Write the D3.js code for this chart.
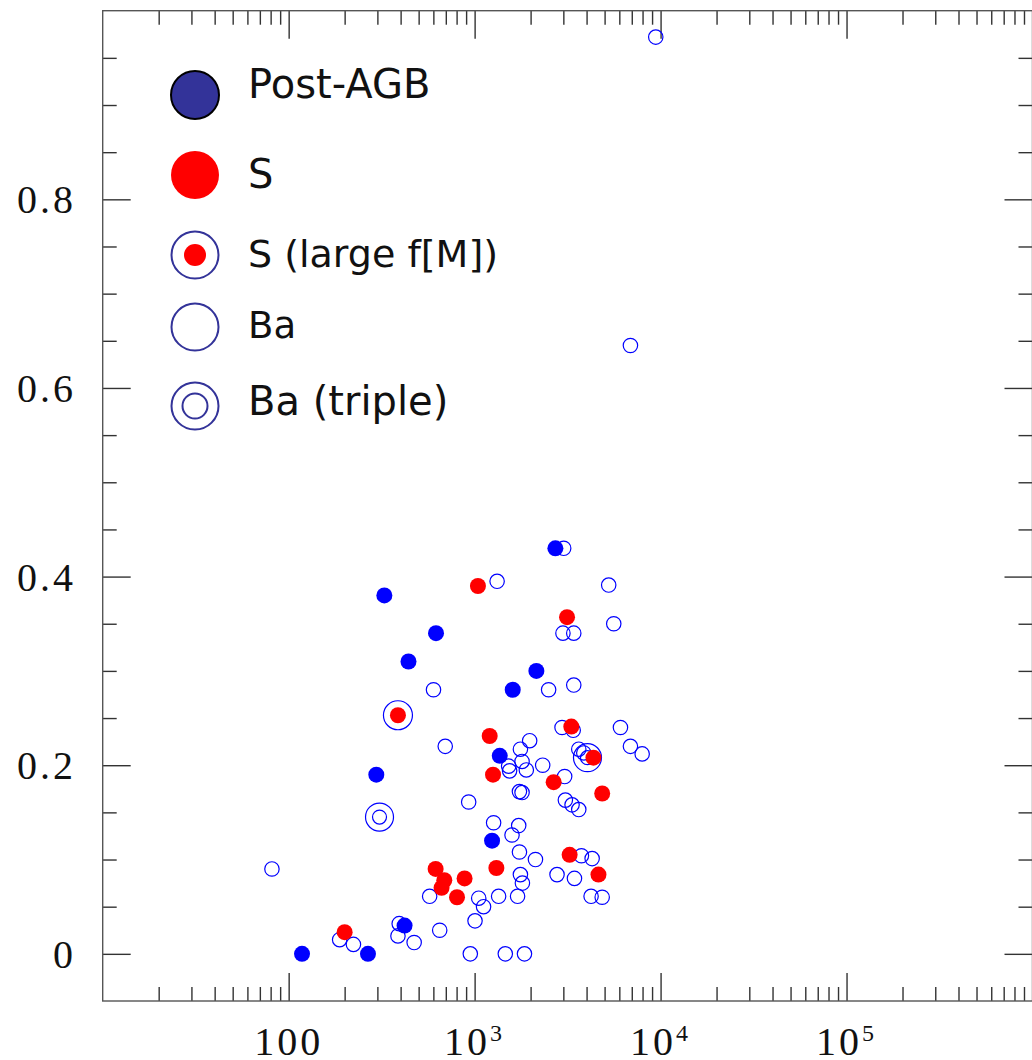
<!DOCTYPE html>
<html>
<head>
<meta charset="utf-8">
<script src="https://cdn.jsdelivr.net/npm/d3@7/dist/d3.min.js"></script>
<style>
  body { margin: 0; background: #fff; }
  svg { display: block; }
</style>
</head>
<body>
<svg id="chart" width="1032" height="1060"></svg>
<script>
// [orbital period, eccentricity]
const postAgb = [
  [2718, 0.430], [327, 0.380], [620, 0.340], [441, 0.310], [2148, 0.300],
  [1603, 0.280], [1365, 0.210], [296, 0.190], [1241, 0.120], [420, 0.030],
  [118, 0.000], [267, 0.000]
];
const sStars = [
  [1042, 0.390], [3140, 0.357], [1205, 0.231], [3311, 0.241], [1256, 0.190],
  [4355, 0.208], [2661, 0.182], [4853, 0.170], [3243, 0.105], [617, 0.090],
  [1309, 0.091], [687, 0.078], [664, 0.070], [883, 0.080], [4634, 0.084],
  [804, 0.060], [200, 0.023]
];
const sLargeFM = [[387, 0.253]];
const baTriple = [[308, 0.145], [4045, 0.208]];
const baStars = [
  [9420, 0.972], [6885, 0.645], [3013, 0.430], [1321, 0.395], [5260, 0.391],
  [5600, 0.350], [2985, 0.340], [3413, 0.340], [2500, 0.280], [3413, 0.285],
  [601, 0.280], [695, 0.220], [2952, 0.240], [3390, 0.237], [6085, 0.240],
  [6885, 0.220], [7961, 0.212], [1977, 0.226], [1763, 0.217], [1524, 0.199],
  [1542, 0.194], [1799, 0.204], [1897, 0.195], [2323, 0.200], [3631, 0.217],
  [3864, 0.213], [3049, 0.188], [1799, 0.171], [1742, 0.172], [3076, 0.163],
  [3342, 0.158], [3631, 0.153], [929, 0.161], [1265, 0.139], [1726, 0.136],
  [1589, 0.126], [81.3, 0.090], [1742, 0.108], [2124, 0.100], [3753, 0.104],
  [4285, 0.101], [1763, 0.084], [1807, 0.075], [2774, 0.084], [3443, 0.080],
  [573, 0.061], [1052, 0.059], [1117, 0.050], [1346, 0.061], [1702, 0.061],
  [4229, 0.061], [4853, 0.060], [1005, 0.035], [649, 0.025], [393, 0.032],
  [387, 0.019], [473, 0.012], [188, 0.015], [223, 0.010], [948, 0.000],
  [1462, 0.000], [1854, 0.000]
];

const xMajor = [100, 1e3, 1e4, 1e5];
const xLabels = [["100", ""], ["10", "3"], ["10", "4"], ["10", "5"]];
const yMajor = [0, 0.2, 0.4, 0.6, 0.8];
const yLabels = ["0", "0.2", "0.4", "0.6", "0.8"];

const legendLabels = ["Post-AGB", "S", "S (large f[M])", "Ba", "Ba (triple)"];

const svg = d3.select("#chart");
const plotLeft = 102.7, plotRight = 1032.5, plotTop = 10.7, plotBottom = 1001;

const x = d3.scaleLog().domain([10, 1e6]).range([plotLeft, plotRight]);
const y = d3.scaleLinear().domain([-0.05, 1]).range([plotBottom, plotTop]);

// minor tick values
const xMinor = [];
for (let e = 1; e < 6; e++) {
  for (let m = 2; m <= 9; m++) xMinor.push(m * Math.pow(10, e));
}
const yMinor = d3.range(0.05, 1.0, 0.05).filter(v => Math.abs(v * 5 - Math.round(v * 5)) > 1e-6);

const tickColor = "#333";

function axisGroup(axis, tx, ty) {
  const g = svg.append("g").attr("transform", `translate(${tx},${ty})`).call(axis);
  g.select(".domain").remove();
  g.selectAll("line").attr("stroke", tickColor).attr("stroke-width", 1.4);
  return g;
}

// ticks on all four sides, pointing inward
axisGroup(d3.axisBottom(x).tickValues(xMinor).tickSize(-14).tickFormat(""), 0, plotBottom);
axisGroup(d3.axisBottom(x).tickValues(xMajor).tickSize(-28).tickFormat(""), 0, plotBottom);
axisGroup(d3.axisTop(x).tickValues(xMinor).tickSize(-14).tickFormat(""), 0, plotTop);
axisGroup(d3.axisTop(x).tickValues(xMajor).tickSize(-28).tickFormat(""), 0, plotTop);
axisGroup(d3.axisLeft(y).tickValues(yMinor).tickSize(-14).tickFormat(""), plotLeft, 0);
axisGroup(d3.axisLeft(y).tickValues(yMajor).tickSize(-28).tickFormat(""), plotLeft, 0);
axisGroup(d3.axisRight(y).tickValues(yMinor).tickSize(-14).tickFormat(""), plotRight, 0);
axisGroup(d3.axisRight(y).tickValues(yMajor).tickSize(-28).tickFormat(""), plotRight, 0);

// frame
svg.append("rect")
  .attr("x", plotLeft).attr("y", plotTop)
  .attr("width", plotRight - plotLeft).attr("height", plotBottom - plotTop)
  .attr("fill", "none").attr("stroke", "#555").attr("stroke-width", 1.4);

// tick labels
const labelFont = "'Liberation Serif', 'DejaVu Serif', serif";
xMajor.forEach((v, i) => {
  const t = svg.append("text")
    .attr("x", x(v)).attr("y", 1055)
    .attr("text-anchor", "middle")
    .attr("font-family", labelFont).attr("font-size", 40)
    .attr("letter-spacing", 3)
    .attr("fill", "#111");
  t.append("tspan").text(xLabels[i][0]);
  if (xLabels[i][1]) {
    t.append("tspan").attr("dy", -14).attr("font-size", 24).text(xLabels[i][1]);
  }
});

svg.selectAll(".ylab")
  .data(yMajor)
  .join("text")
  .attr("class", "ylab")
  .attr("x", 76)
  .attr("y", d => y(d) + 14)
  .attr("text-anchor", "end")
  .attr("font-family", labelFont).attr("font-size", 40)
  .attr("letter-spacing", 3)
  .attr("fill", "#111")
  .text((d, i) => yLabels[i]);

// markers
const blue = "#0000ff", red = "#ff0000";
const g = svg.append("g");

g.selectAll(".ba").data(baStars).join("circle")
  .attr("cx", d => x(d[0])).attr("cy", d => y(d[1])).attr("r", 7.2)
  .attr("fill", "none").attr("stroke", blue).attr("stroke-width", 1.2);

g.selectAll(".bat").data(baTriple).join("g").each(function(d) {
  const s = d3.select(this);
  [14, 7].forEach(r => s.append("circle")
    .attr("cx", x(d[0])).attr("cy", y(d[1])).attr("r", r)
    .attr("fill", "none").attr("stroke", blue).attr("stroke-width", 1.2));
});

g.selectAll(".pagb").data(postAgb).join("circle")
  .attr("cx", d => x(d[0])).attr("cy", d => y(d[1])).attr("r", 8)
  .attr("fill", blue);

g.selectAll(".s").data(sStars).join("circle")
  .attr("cx", d => x(d[0])).attr("cy", d => y(d[1])).attr("r", 8)
  .attr("fill", red);

g.selectAll(".slf").data(sLargeFM).join("g").each(function(d) {
  const s = d3.select(this);
  s.append("circle").attr("cx", x(d[0])).attr("cy", y(d[1])).attr("r", 14.5)
    .attr("fill", "none").attr("stroke", blue).attr("stroke-width", 1.2);
  s.append("circle").attr("cx", x(d[0])).attr("cy", y(d[1])).attr("r", 8)
    .attr("fill", red);
});

// legend
const navy = "#333399";
const legY = [95, 175, 255, 327, 406];
const legBase = [98, 188, 267, 338, 415];
const legSize = [40, 40, 38, 37, 40];
const lg = svg.append("g");
const cx0 = 195;

lg.append("circle").attr("cx", cx0).attr("cy", legY[0]).attr("r", 24)
  .attr("fill", navy).attr("stroke", "#000").attr("stroke-width", 2);
lg.append("circle").attr("cx", cx0).attr("cy", legY[1]).attr("r", 24).attr("fill", red);
lg.append("circle").attr("cx", cx0).attr("cy", legY[2]).attr("r", 23.5)
  .attr("fill", "none").attr("stroke", navy).attr("stroke-width", 2);
lg.append("circle").attr("cx", cx0).attr("cy", legY[2]).attr("r", 11).attr("fill", red);
lg.append("circle").attr("cx", cx0).attr("cy", legY[3]).attr("r", 23.5)
  .attr("fill", "none").attr("stroke", navy).attr("stroke-width", 2);
lg.append("circle").attr("cx", cx0).attr("cy", legY[4]).attr("r", 23.5)
  .attr("fill", "none").attr("stroke", navy).attr("stroke-width", 2);
lg.append("circle").attr("cx", cx0).attr("cy", legY[4]).attr("r", 12.5)
  .attr("fill", "none").attr("stroke", navy).attr("stroke-width", 2);

lg.selectAll("text").data(legendLabels).join("text")
  .attr("x", 248)
  .attr("y", (d, i) => legBase[i])
  .attr("font-family", "'DejaVu Sans', sans-serif")
  .attr("font-size", (d, i) => legSize[i])
  .attr("fill", "#111")
  .text(d => d);
</script>
</body>
</html>
